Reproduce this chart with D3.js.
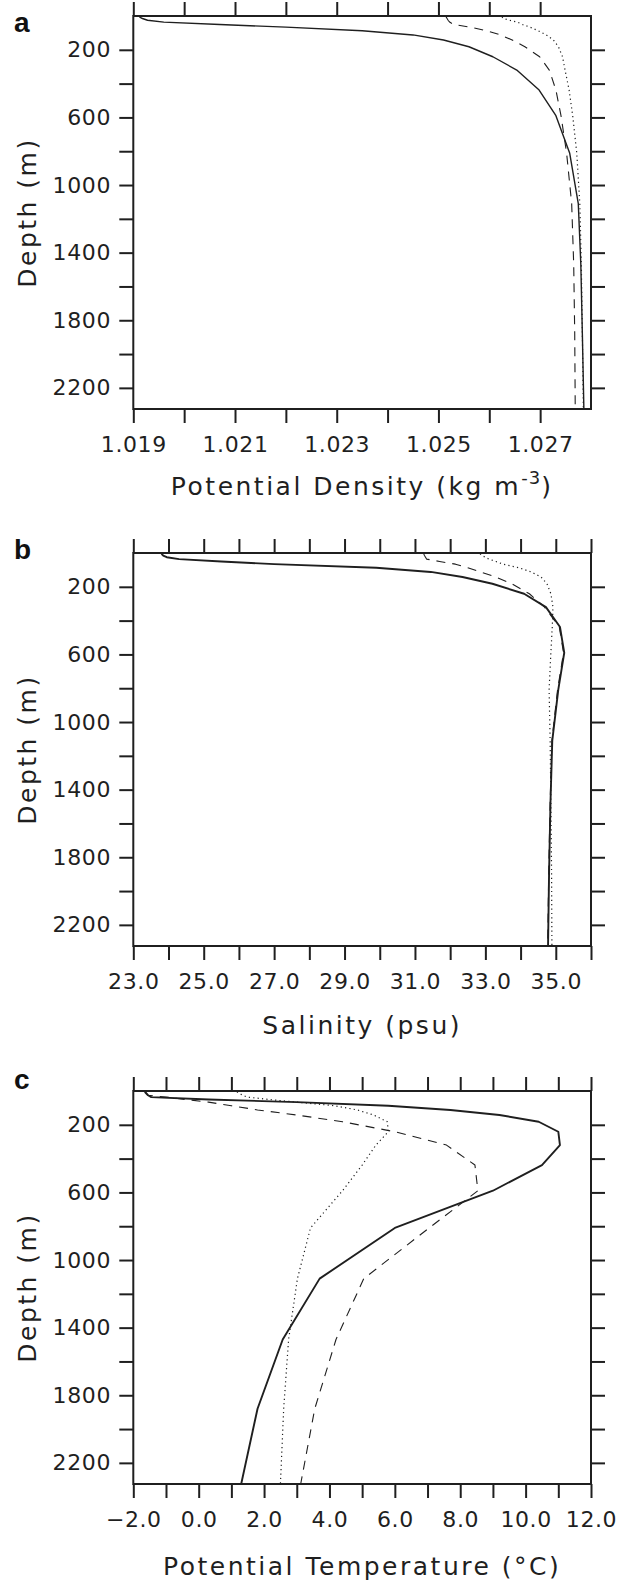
<!DOCTYPE html>
<html>
<head>
<meta charset="utf-8">
<script src="https://cdn.jsdelivr.net/npm/d3@7"></script>
<style>
  body { margin: 0; background: #fff; }
  svg { display: block; }
</style>
</head>
<body>
<svg id="chart" width="636" height="1582"></svg>
<script>
// model levels (m), shared by every profile
const depths = [5, 15, 25, 36, 50, 66, 87, 112, 142, 182, 241, 320, 438, 590, 810, 1110, 1470, 1880, 2325];

// a: potential density (kg m-3)
const densitySolid  = [1.01912, 1.01918, 1.01928, 1.0196, 1.0207, 1.0220, 1.0235, 1.02450, 1.02510, 1.02560, 1.02607, 1.02654, 1.02698, 1.02731, 1.02758, 1.02775, 1.02780, 1.02783, 1.02786];
const densityDashed = [1.02515, 1.02517, 1.02519, 1.02522, 1.02530, 1.02562, 1.02595, 1.02622, 1.02645, 1.02670, 1.02699, 1.02718, 1.02731, 1.02741, 1.02752, 1.02762, 1.02766, 1.02768, 1.02769];
const densityDotted = [1.02625, 1.02628, 1.02640, 1.02655, 1.02665, 1.02680, 1.02696, 1.02712, 1.02726, 1.02736, 1.02744, 1.02749, 1.02757, 1.02764, 1.02772, 1.02778, 1.02781, 1.02783, 1.02785];

// b: salinity (psu)
const salinitySolid  = [23.80, 23.85, 23.95, 24.3, 25.5, 27.0, 29.9, 31.45, 32.35, 33.2, 34.1, 34.72, 35.12, 35.24, 35.07, 34.90, 34.85, 34.81, 34.78];
const salinityDashed = [31.25, 31.27, 31.30, 31.33, 31.70, 32.15, 32.50, 32.85, 33.30, 33.75, 34.25, 34.68, 35.10, 35.22, 35.05, 34.89, 34.84, 34.80, 34.77];
const salinityDotted = [32.85, 32.90, 33.00, 33.10, 33.30, 33.50, 33.95, 34.30, 34.58, 34.75, 34.86, 34.92, 34.90, 34.86, 34.81, 34.84, 34.86, 34.88, 34.89];

// c: potential temperature (degC)
const tempSolid  = [-1.65, -1.60, -1.55, -1.45, 0.3, 3.0, 5.8, 7.7, 9.2, 10.4, 11.0, 11.05, 10.5, 9.0, 6.0, 3.7, 2.57, 1.8, 1.3];
const tempDashed = [-1.62, -1.60, -1.55, -1.0, -0.4, 0.3, 1.0, 1.8, 3.0, 4.4, 6.0, 7.58, 8.45, 8.54, 7.05, 5.05, 4.2, 3.55, 3.12];
const tempDotted = [1.17, 1.25, 1.35, 1.48, 2.15, 3.0, 4.15, 4.85, 5.35, 5.77, 5.8, 5.42, 5.0, 4.4, 3.42, 3.02, 2.75, 2.6, 2.5];

// axis ticks and labels
const depthTicks  = [200, 400, 600, 800, 1000, 1200, 1400, 1600, 1800, 2000, 2200];
const depthLabels = [200, 600, 1000, 1400, 1800, 2200];
const densityTicks  = [1.019, 1.020, 1.021, 1.022, 1.023, 1.024, 1.025, 1.026, 1.027];
const densityLabels = [1.019, 1.021, 1.023, 1.025, 1.027];
const salinityTicks  = [23, 24, 25, 26, 27, 28, 29, 30, 31, 32, 33, 34, 35, 36];
const salinityLabels = [23, 25, 27, 29, 31, 33, 35];
const tempTicks  = [-2, -1, 0, 1, 2, 3, 4, 5, 6, 7, 8, 9, 10, 11, 12];
const tempLabels = [-2, 0, 2, 4, 6, 8, 10, 12];

const svg = d3.select("#chart");
svg.append("rect").attr("width", 636).attr("height", 1582).attr("fill", "#fff");

const ink = "#1f1f1f";
const left = 133.3, right = 591, plotH = 393;
const tickLen = 14;

const panels = [
  { name: "a", top: 16, xDomain: [1.019, 1.028], ticks: densityTicks, labels: densityLabels,
    fmt: d3.format(".3f"), title: ["Potential Density (kg m", "-3", ")"], labelY: 32, titleOff: 86,
    series: [densitySolid, densityDashed, densityDotted], solidW: 1.4 },
  { name: "b", top: 553, xDomain: [23, 36], ticks: salinityTicks, labels: salinityLabels,
    fmt: d3.format(".1f"), title: ["Salinity (psu)"], labelY: 559, titleOff: 88,
    series: [salinitySolid, salinityDashed, salinityDotted], solidW: 1.9 },
  { name: "c", top: 1091, xDomain: [-2, 12], ticks: tempTicks, labels: tempLabels,
    fmt: d3.format(".1f"), title: ["Potential Temperature (°C)"], labelY: 1089, titleOff: 91,
    series: [tempSolid, tempDashed, tempDotted], solidW: 1.9 }
];

const styles = [
  { dash: null },
  { dash: "9,7", w: 1.1 },
  { dash: "1.2,3.2", w: 1.2 }
];

panels.forEach(p => {
  const x = d3.scaleLinear().domain(p.xDomain).range([left, right]);
  const y = d3.scaleLinear().domain([0, 2325]).range([p.top, p.top + plotH]);
  const g = svg.append("g");
  const bottom = p.top + plotH;

  // ticks
  const styleAxis = (sel) => {
    sel.select(".domain").remove();
    sel.selectAll(".tick line").attr("stroke", ink).attr("stroke-width", 2);
    sel.selectAll("text").attr("fill", ink)
      .attr("font-family", "DejaVu Sans, sans-serif").attr("font-size", 22)
      .attr("letter-spacing", 0.6);
  };
  const fmtOr = (list, f) => d => list.includes(d) ? f(d) : "";

  g.append("g").attr("transform", `translate(0,${bottom})`)
    .call(d3.axisBottom(x).tickValues(p.ticks).tickSize(tickLen).tickPadding(13.4)
      .tickFormat(fmtOr(p.labels, p.fmt)))
    .call(styleAxis);
  g.append("g").attr("transform", `translate(0,${p.top})`)
    .call(d3.axisTop(x).tickValues(p.ticks).tickSize(tickLen).tickFormat(""))
    .call(styleAxis);
  g.append("g").attr("transform", `translate(${left},0)`)
    .call(d3.axisLeft(y).tickValues(depthTicks).tickSize(tickLen).tickPadding(8.3)
      .tickFormat(fmtOr(depthLabels, d3.format("d"))))
    .call(styleAxis);
  g.append("g").attr("transform", `translate(${right},0)`)
    .call(d3.axisRight(y).tickValues(depthTicks).tickSize(tickLen).tickFormat(""))
    .call(styleAxis);

  // profiles
  const line = d3.line().x(d => x(d[1])).y(d => y(d[0]));
  p.series.forEach((vals, i) => {
    const pts = depths.map((d, k) => [d, vals[k]]);
    g.append("path").attr("d", line(pts))
      .attr("fill", "none").attr("stroke", ink)
      .attr("stroke-width", i === 0 ? p.solidW : styles[i].w)
      .attr("stroke-dasharray", styles[i].dash)
      .attr("stroke-linejoin", "round");
  });

  // frame
  g.append("rect").attr("x", left).attr("y", p.top)
    .attr("width", right - left).attr("height", plotH)
    .attr("fill", "none").attr("stroke", ink).attr("stroke-width", 2);

  // panel letter
  g.append("text").attr("x", 14).attr("y", p.labelY).text(p.name)
    .attr("font-family", "Liberation Sans, Arial, sans-serif").attr("font-weight", "bold")
    .attr("font-size", 28).attr("fill", "#111");

  // x title
  const t = g.append("text").attr("x", (left + right) / 2).attr("y", bottom + p.titleOff)
    .attr("text-anchor", "middle").attr("font-family", "DejaVu Sans, sans-serif")
    .attr("font-size", 25).attr("letter-spacing", 2.5).attr("fill", ink);
  t.append("tspan").text(p.title[0]);
  if (p.title.length > 1) {
    t.append("tspan").attr("dy", -11).attr("font-size", 18).attr("letter-spacing", 1).text(p.title[1]);
    t.append("tspan").attr("dy", 11).text(p.title[2]);
  }

  // y title
  g.append("text")
    .attr("transform", `translate(36,${p.top + plotH / 2}) rotate(-90)`)
    .attr("text-anchor", "middle").attr("font-family", "DejaVu Sans, sans-serif")
    .attr("font-size", 25).attr("letter-spacing", 2.5).attr("fill", ink)
    .text("Depth (m)");
});
</script>
</body>
</html>
